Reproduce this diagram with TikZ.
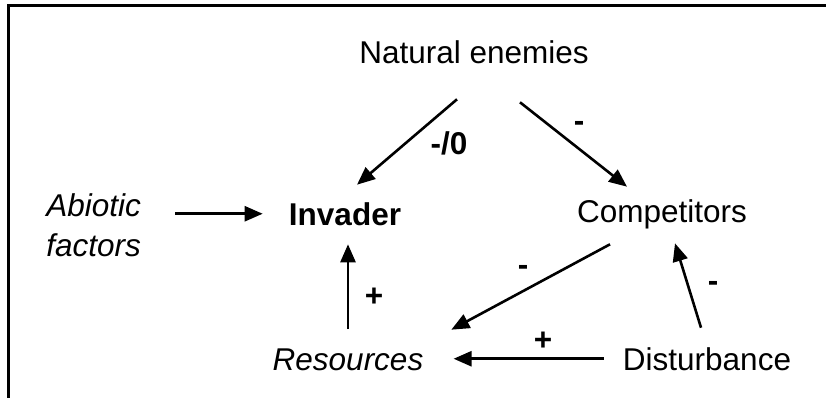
\documentclass[tikz,border=0pt]{standalone}
\usepackage{fontspec}
\setmainfont{Liberation Sans}
\usetikzlibrary{arrows.meta}

\begin{document}
\begin{tikzpicture}[
            x = 1pt, y = -1pt, % pixel grid, y downwards
            > = {Triangle[length=18pt,width=15pt]}, % arrow head style
            line width = 2.6pt, % line style
            every node/.style = {inner sep=0pt, font=\fontsize{31.5}{40}\selectfont},
            word/.style = {anchor=base, text height=22.5pt, text depth=0pt},
            sign/.style = {anchor=base, font=\fontsize{31.5}{40}\selectfont\bfseries}
        ]

\useasboundingbox (0,0) rectangle (826,398);
\draw[line width=3pt] (8,398) -- (8,6) -- (826,6);

\node[word] (NE) at (474,64) {Natural enemies};
\node[word, font=\fontsize{31.5}{40}\selectfont\bfseries] (Inv) at (345,225) {Invader};
\node[anchor=north west, align=left, font=\fontsize{31.5}{40}\selectfont\itshape] (Abio) at (45,192) {Abiotic\\factors};
\node[word] (Comp) at (662,222) {Competitors};
\node[word, font=\fontsize{31.5}{40}\selectfont\itshape] (Res) at (348,370) {Resources};
\node[word] (Dist) at (707,370) {Disturbance};

\node[sign] (s1) at (449,155) {-/0};
\node[sign] (s2) at (579,131.5) {-};
\node[sign] (s3) at (374,306) {+};
\node[sign] (s4) at (523,275.5) {-};
\node[sign] (s5) at (543,350) {+};
\node[sign] (s6) at (713,291.5) {-};

 \draw [->, shorten <=33pt, shorten >=25pt] (Abio.east |- Inv.west) -- (Inv.west);
 \draw [->, shorten <=17pt, shorten >=18pt] (Res.north) -- (Res.north |- Inv.south);
 \draw [->] ([xshift=-17pt,yshift=-34pt]NE.south) -- ([xshift=12pt,yshift=16.5pt]Inv.north);
 \draw [->] ([xshift=46pt,yshift=-37pt]NE.south) -- ([xshift=-35pt,yshift=11.5pt]Comp.north);
 \draw [->] ([xshift=-52pt,yshift=-21pt]Comp.south) -- ([xshift=26.75pt,yshift=16.5pt]Res.north east);
 \draw [->, shorten <=18pt, shorten >=29pt] (Dist.west) -- (Res.east);
 \draw [->] ([xshift=-6pt,yshift=18.5pt]Dist.north) -- ([xshift=13pt,yshift=-20pt]Comp.south);
\end{tikzpicture}
\end{document}
